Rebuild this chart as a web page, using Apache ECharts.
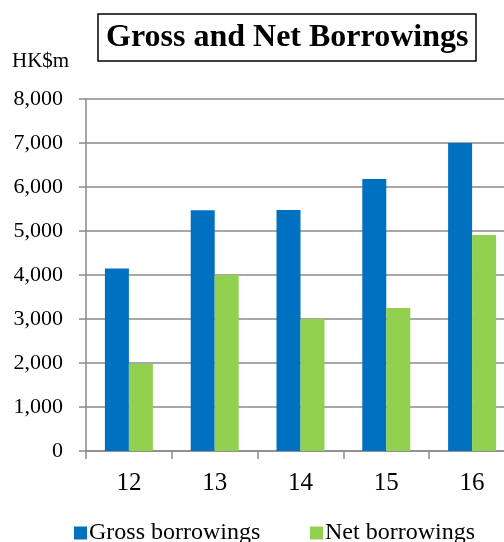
<!DOCTYPE html>
<html>
<head>
<meta charset="utf-8">
<script src="https://cdn.jsdelivr.net/npm/echarts@6/dist/echarts.min.js"></script>
<style>
  html, body { margin: 0; padding: 0; background: #fff; overflow: hidden; }
  /* canvas runs a little past the right edge of the window, so the last group is cut off */
  #chart { width: 520px; height: 542px; }
</style>
</head>
<body>
<div id="chart"></div>
<script>
// Years (label shows last two digits)
const years = ['12', '13', '14', '15', '16'];
// HK$ million
const grossBorrowings = [4150, 5470, 5480, 6180, 7000];
const netBorrowings = [1980, 4000, 3000, 3250, 4910];
const yTicks = { min: 0, max: 8000, step: 1000 };

const serif = '"Liberation Serif", "Times New Roman", serif';
const axisGrey = '#8a8a8a';

const chart = echarts.init(document.getElementById('chart'), null, { renderer: 'canvas' });

chart.setOption({
  animation: false,
  textStyle: { fontFamily: serif },
  title: {
    text: 'Gross and Net Borrowings',
    left: 98,
    top: 14,
    padding: [8, 8, 7, 8],
    borderColor: '#000',
    borderWidth: 1.5,
    textStyle: { fontFamily: serif, fontSize: 32, fontWeight: 'bold', color: '#000', lineHeight: 32 }
  },
  graphic: [{
    type: 'text',
    left: 12,
    top: 51,
    style: { text: 'HK$m', font: '21px ' + serif, fill: '#000' }
  }],
  legend: [
    {
      data: ['Gross borrowings'],
      left: 69, top: 516,
      itemWidth: 13, itemHeight: 13,
      icon: 'rect',
      textStyle: { fontFamily: serif, fontSize: 24, color: '#000', padding: [0, 0, 0, -3] }
    },
    {
      data: ['Net borrowings'],
      left: 305, top: 516,
      itemWidth: 13, itemHeight: 13,
      icon: 'rect',
      textStyle: { fontFamily: serif, fontSize: 24, color: '#000', padding: [0, 0, 0, -3] }
    }
  ],
  grid: { left: 86, top: 99, width: 429, bottom: 91, containLabel: false },
  xAxis: {
    type: 'category',
    data: years,
    axisLine: { lineStyle: { color: axisGrey, width: 1.5 } },
    axisTick: { show: true, length: 8, lineStyle: { color: axisGrey, width: 1.5 } },
    axisLabel: { fontFamily: serif, fontSize: 25, color: '#000', margin: 20 },
    splitLine: { show: false }
  },
  yAxis: {
    type: 'value',
    min: yTicks.min,
    max: yTicks.max,
    interval: yTicks.step,
    axisLine: { show: true, lineStyle: { color: axisGrey, width: 1.5 } },
    axisTick: { show: true, length: 7, lineStyle: { color: axisGrey, width: 1.5 } },
    axisLabel: {
      fontFamily: serif, fontSize: 22, color: '#000', margin: 23,
      formatter: v => v.toLocaleString('en-US')
    },
    splitLine: { show: true, lineStyle: { color: axisGrey, width: 1.5 } }
  },
  series: [
    {
      name: 'Gross borrowings',
      type: 'bar',
      data: grossBorrowings,
      barWidth: 24,
      barGap: '0%',
      itemStyle: { color: '#0070C0' }
    },
    {
      name: 'Net borrowings',
      type: 'bar',
      data: netBorrowings,
      barWidth: 24,
      itemStyle: { color: '#92D050' }
    }
  ]
});
</script>
</body>
</html>
